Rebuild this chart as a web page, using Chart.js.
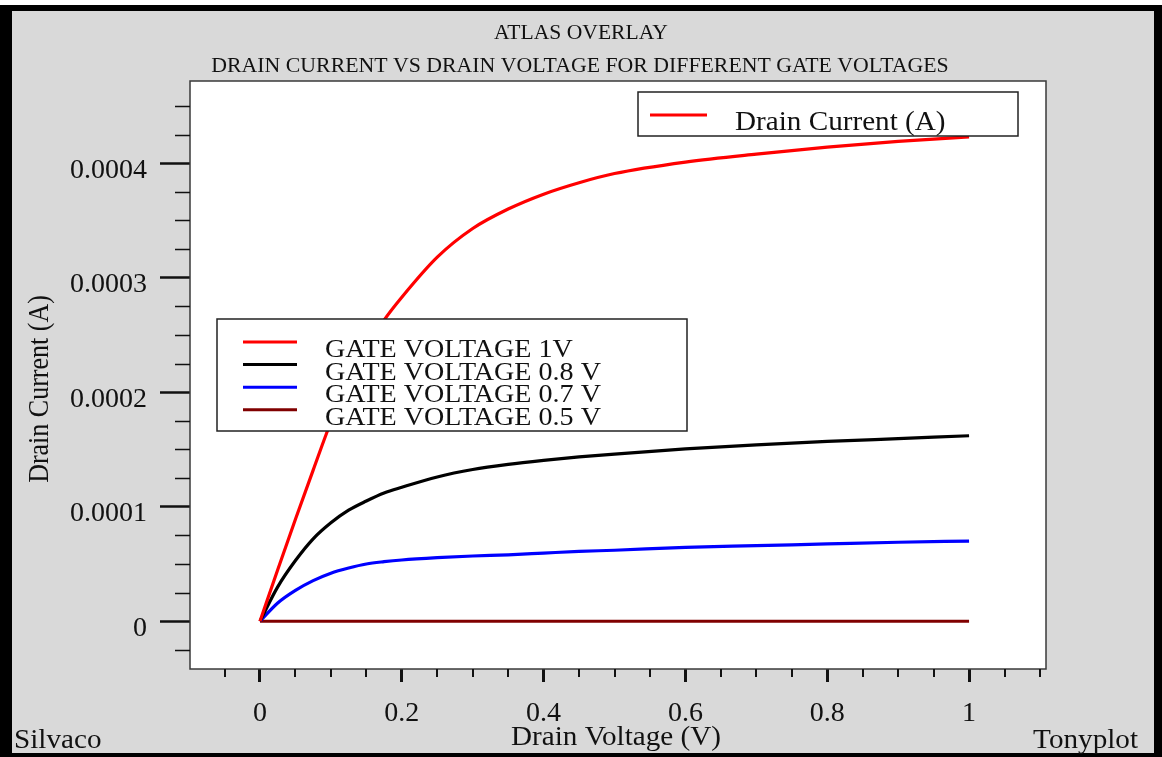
<!DOCTYPE html>
<html>
<head>
<meta charset="utf-8">
<script src="https://cdn.jsdelivr.net/npm/chart.js@4.4.0/dist/chart.umd.min.js"></script>
<style>
  body { margin: 0; background: #fff; }
  canvas { display: block; }
</style>
</head>
<body>
<canvas id="ivChart" width="1162" height="757"></canvas>
<script>
// drain voltage sweep (V) shared by all gate biases
const drainVoltage = [0, 0.025, 0.05, 0.075, 0.1, 0.125, 0.15, 0.175, 0.2, 0.25,
                      0.3, 0.35, 0.4, 0.45, 0.5, 0.6, 0.7, 0.8, 0.9, 1.0];
// drain current (A) for each gate voltage
const currentVg10 = [0, 0.45e-4, 0.89e-4, 1.32e-4, 1.74e-4, 2.10e-4, 2.38e-4, 2.63e-4, 2.83e-4, 3.18e-4,
                     3.43e-4, 3.60e-4, 3.73e-4, 3.83e-4, 3.91e-4, 4.01e-4, 4.08e-4, 4.14e-4, 4.19e-4, 4.23e-4];
const currentVg08 = [0, 0.30e-4, 0.53e-4, 0.72e-4, 0.86e-4, 0.97e-4, 1.05e-4, 1.12e-4, 1.17e-4, 1.26e-4,
                     1.325e-4, 1.37e-4, 1.405e-4, 1.435e-4, 1.46e-4, 1.505e-4, 1.54e-4, 1.57e-4, 1.595e-4, 1.62e-4];
const currentVg07 = [0, 0.16e-4, 0.27e-4, 0.355e-4, 0.42e-4, 0.465e-4, 0.50e-4, 0.52e-4, 0.535e-4, 0.555e-4,
                     0.57e-4, 0.58e-4, 0.595e-4, 0.61e-4, 0.62e-4, 0.645e-4, 0.66e-4, 0.675e-4, 0.69e-4, 0.70e-4];
const currentVg05 = [0, 0, 0, 0, 0, 0, 0, 0, 0, 0,
                     0, 0, 0, 0, 0, 0, 0, 0, 0, 0];

const seriesLabels = ['GATE VOLTAGE 1V', 'GATE VOLTAGE 0.8 V', 'GATE VOLTAGE 0.7 V', 'GATE VOLTAGE 0.5 V'];
const seriesColors = ['#ff0000', '#000000', '#0000ff', '#800000'];

const xMajorTicks = [0, 0.2, 0.4, 0.6, 0.8, 1];
const xTickLabels = ['0', '0.2', '0.4', '0.6', '0.8', '1'];
const xMinorTicks = [-0.05, 0.05, 0.1, 0.15, 0.25, 0.3, 0.35, 0.45, 0.5, 0.55,
                     0.65, 0.7, 0.75, 0.85, 0.9, 0.95, 1.05, 1.1];
const yMajorTicks = [0, 0.0001, 0.0002, 0.0003, 0.0004];
const yTickLabels = ['0', '0.0001', '0.0002', '0.0003', '0.0004'];
const yMinorTicks = [-0.000025, 0.000025, 0.00005, 0.000075, 0.000125, 0.00015, 0.000175,
                     0.000225, 0.00025, 0.000275, 0.000325, 0.00035, 0.000375, 0.000425, 0.00045];

const serif = '"Liberation Serif", "Times New Roman", serif';
const ink = '#111';

function toPoints(ys) {
    return drainVoltage.map(function (v, i) {
        return { x: v, y: ys[i] };
    });
}

// text is a touch wider than the plain font, so stretch it horizontally
function wideText(ctx, text, x, y, align, size, sx) {
    ctx.save();
    ctx.font = size + 'px ' + serif;
    ctx.fillStyle = ink;
    ctx.textAlign = align;
    ctx.textBaseline = 'alphabetic';
    ctx.translate(x, y);
    ctx.scale(sx, 1);
    ctx.fillText(text, 0, 0);
    ctx.restore();
}

const tonyplotFrame = {
    id: 'tonyplotFrame',
    beforeDraw(chart) {
        const ctx = chart.ctx;
        const a = chart.chartArea;
        ctx.save();
        ctx.fillStyle = '#ffffff';
        ctx.fillRect(0, 0, chart.width, chart.height);
        ctx.fillStyle = '#000000';
        ctx.fillRect(0, 5, chart.width, chart.height - 5);
        ctx.fillStyle = '#d9d9d9';
        ctx.fillRect(12, 11, 1142, 742);
        ctx.fillStyle = '#ffffff';
        ctx.fillRect(a.left, a.top, a.right - a.left, a.bottom - a.top);
        ctx.restore();
    },
    afterDraw(chart) {
        const ctx = chart.ctx;
        const a = chart.chartArea;
        const xs = chart.scales.x;
        const ys = chart.scales.y;
        ctx.save();

        // plot frame
        ctx.strokeStyle = '#3a3a3a';
        ctx.lineWidth = 1.5;
        ctx.strokeRect(a.left, a.top, a.right - a.left, a.bottom - a.top);

        // minor ticks
        ctx.strokeStyle = ink;
        ctx.lineWidth = 2;
        ctx.beginPath();
        xMinorTicks.forEach(function (v) {
            const px = Math.round(xs.getPixelForValue(v));
            ctx.moveTo(px, a.bottom);
            ctx.lineTo(px, a.bottom + 8);
        });
        ctx.stroke();
        ctx.lineWidth = 1.5;
        ctx.beginPath();
        yMinorTicks.forEach(function (v) {
            const py = Math.round(ys.getPixelForValue(v)) + 0.5;
            ctx.moveTo(a.left - 15, py);
            ctx.lineTo(a.left, py);
        });
        ctx.stroke();

        // overlay legend
        ctx.fillStyle = '#ffffff';
        ctx.fillRect(638, 92, 380, 44);
        ctx.strokeStyle = '#222';
        ctx.lineWidth = 1.5;
        ctx.strokeRect(638, 92, 380, 44);
        ctx.strokeStyle = seriesColors[0];
        ctx.lineWidth = 3;
        ctx.beginPath();
        ctx.moveTo(650, 115);
        ctx.lineTo(707, 115);
        ctx.stroke();
        wideText(ctx, 'Drain Current (A)', 735, 130, 'left', 27, 1.08);

        // gate voltage legend
        ctx.fillStyle = '#ffffff';
        ctx.fillRect(217, 319, 470, 112);
        ctx.strokeStyle = '#222';
        ctx.lineWidth = 1.5;
        ctx.strokeRect(217, 319, 470, 112);
        seriesLabels.forEach(function (label, i) {
            const ly = 342 + i * 22.6;
            ctx.strokeStyle = seriesColors[i];
            ctx.lineWidth = 3;
            ctx.beginPath();
            ctx.moveTo(243, ly);
            ctx.lineTo(297, ly);
            ctx.stroke();
            wideText(ctx, label, 325, 357 + i * 22.6, 'left', 26, 1.08);
        });

        // titles and axis captions
        wideText(ctx, 'ATLAS OVERLAY', 581, 39, 'center', 20, 1.08);
        wideText(ctx, 'DRAIN CURRENT VS DRAIN VOLTAGE FOR DIFFERENT GATE VOLTAGES', 580, 72, 'center', 20, 1.09);
        wideText(ctx, 'Drain Voltage (V)', 616, 745, 'center', 27, 1.08);
        wideText(ctx, 'Silvaco', 14, 748, 'left', 27, 1.08);
        wideText(ctx, 'Tonyplot', 1138, 748, 'right', 27, 1.08);

        ctx.save();
        ctx.font = '26px ' + serif;
        ctx.fillStyle = ink;
        ctx.textAlign = 'center';
        ctx.translate(48, 389);
        ctx.scale(1.1, 1);
        ctx.rotate(-Math.PI / 2);
        ctx.fillText('Drain Current (A)', 0, 0);
        ctx.restore();

        ctx.restore();
    }
};

const datasets = [currentVg10, currentVg08, currentVg07, currentVg05].map(function (ys, i) {
    return {
        label: seriesLabels[i],
        data: toPoints(ys),
        borderColor: seriesColors[i],
        backgroundColor: seriesColors[i],
        borderWidth: 3.2,
        pointRadius: 0,
        fill: false,
        cubicInterpolationMode: 'monotone'
    };
});

new Chart(document.getElementById('ivChart'), {
    type: 'line',
    data: { datasets: datasets },
    plugins: [tonyplotFrame],
    options: {
        responsive: false,
        animation: false,
        layout: { padding: { left: 0, top: 81, right: 116, bottom: 0 } },
        plugins: {
            legend: { display: false },
            tooltip: { enabled: false }
        },
        scales: {
            x: {
                type: 'linear',
                min: -0.0987,
                max: 1.1085,
                afterFit: function (scale) { scale.height = 88; },
                afterBuildTicks: function (scale) {
                    scale.ticks = xMajorTicks.map(function (v) { return { value: v }; });
                },
                border: { display: false },
                grid: { drawOnChartArea: false, tickLength: 13, tickWidth: 3, tickColor: ink },
                ticks: {
                    padding: 15,
                    color: ink,
                    autoSkip: false,
                    maxRotation: 0,
                    font: { family: serif, size: 28 },
                    callback: function (value, index) { return xTickLabels[index]; }
                }
            },
            y: {
                type: 'linear',
                min: -0.0000417,
                max: 0.0004718,
                afterFit: function (scale) { scale.width = 190; },
                afterBuildTicks: function (scale) {
                    scale.ticks = yMajorTicks.map(function (v) { return { value: v }; });
                },
                border: { display: false },
                grid: { drawOnChartArea: false, tickLength: 30, tickWidth: 2.5, tickColor: ink },
                ticks: {
                    padding: 13,
                    labelOffset: 7,
                    color: ink,
                    autoSkip: false,
                    font: { family: serif, size: 28 },
                    callback: function (value, index) { return yTickLabels[index]; }
                }
            }
        }
    }
});
</script>
</body>
</html>
